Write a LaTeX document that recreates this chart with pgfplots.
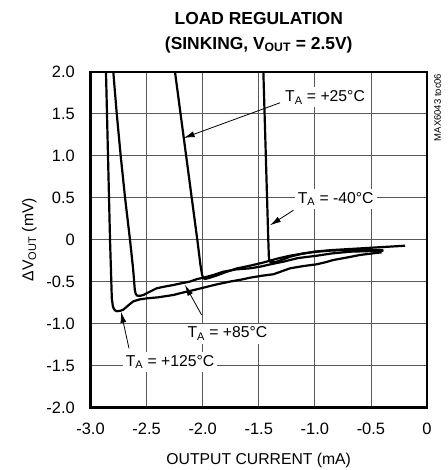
\documentclass[border=0pt]{standalone}
\usepackage{fontspec}
\setmainfont{Liberation Sans}
\usepackage{pgfplots}
\pgfplotsset{compat=1.18}
\usetikzlibrary{arrows.meta}

% curves, x in mA, y in mV
\pgfplotstableread{
x y
-2.866 2.10
-2.862 2.00
-2.826 0.00
-2.810 -0.70
-2.800 -0.80
-2.785 -0.84
-2.766 -0.853
-2.735 -0.848
-2.708 -0.835
-2.660 -0.780
-2.618 -0.735
-2.560 -0.712
-2.499 -0.700
-2.400 -0.688
-2.262 -0.660
-2.180 -0.632
-2.113 -0.612
-1.994 -0.573
-1.880 -0.535
-1.756 -0.500
-1.650 -0.475
-1.578 -0.454
-1.470 -0.430
-1.370 -0.413
-1.300 -0.380
-1.221 -0.342
-1.100 -0.315
-0.983 -0.294
-0.900 -0.268
-0.835 -0.243
-0.700 -0.210
-0.597 -0.183
-0.404 -0.151
}\tonetwofive

\pgfplotstableread{
x y
-2.803 2.10
-2.797 2.00
-2.766 1.50
-2.731 1.00
-2.692 0.50
-2.648 0.00
-2.620 -0.35
-2.605 -0.60
-2.597 -0.645
-2.585 -0.667
-2.560 -0.670
-2.529 -0.660
-2.470 -0.620
-2.410 -0.580
-2.340 -0.560
-2.262 -0.541
-2.190 -0.520
-2.113 -0.500
-2.050 -0.470
-1.994 -0.454
-1.900 -0.420
-1.816 -0.382
-1.700 -0.355
-1.578 -0.342
-1.489 -0.323
-1.380 -0.290
-1.281 -0.263
-1.150 -0.220
-0.983 -0.192
-0.850 -0.165
-0.686 -0.144
-0.390 -0.132
}\teightfive

\pgfplotstableread{
x y
-2.257 2.10
-2.247 2.00
-2.048 0.00
-2.020 -0.30
-2.005 -0.42
-1.994 -0.461
-1.975 -0.468
-1.940 -0.455
-1.880 -0.430
-1.800 -0.390
-1.700 -0.345
-1.578 -0.311
-1.450 -0.270
-1.330 -0.225
-1.221 -0.192
-1.100 -0.165
-0.983 -0.144
-0.850 -0.130
-0.686 -0.124
-0.500 -0.126
-0.390 -0.124
}\ttwofive

\pgfplotstableread{
x y
-1.461 2.10
-1.459 2.00
-1.415 0.00
-1.410 -0.20
-1.405 -0.255
-1.390 -0.270
-1.355 -0.270
-1.300 -0.245
-1.221 -0.204
-1.120 -0.170
-1.005 -0.144
-0.850 -0.125
-0.686 -0.112
-0.450 -0.093
-0.196 -0.073
}\tminusforty

\begin{document}
\begin{tikzpicture}[font=\fontsize{15.8}{18}\selectfont,
    curve/.style={line width=2.2bp, black, line join=round},
    pointer/.style={line width=0.8bp, -{Latex[length=11bp,width=6bp]}}]
\path[use as bounding box] (-90.5bp,-62.5bp) rectangle (357.5bp,407.5bp);
\begin{axis}[
    at={(0,0)}, anchor=south west,
    scale only axis,
    width=336.5bp, height=335.8bp,
    xmin=-3, xmax=0, ymin=-2, ymax=2,
    xtick={-3,-2.5,-2,-1.5,-1,-0.5,0},
    xticklabels={-3.0,-2.5,-2.0,-1.5,-1.0,-0.5,0},
    ytick={-2,-1.5,-1,-0.5,0,0.5,1,1.5,2},
    yticklabels={-2.0,-1.5,-1.0,-0.5,0,0.5,1.0,1.5,2.0},
    major tick length=0pt,
    grid=major,
    major grid style={black!65, line width=0.8bp},
    axis line style={line width=2.4bp},
    tick label style={font=\fontsize{16.5}{18}\selectfont},
    xticklabel style={anchor=center, inner sep=0pt, yshift=-21.5bp},
    yticklabel style={anchor=east, inner sep=0pt, xshift=-15.5bp},
    xlabel={OUTPUT CURRENT (mA)},
    xlabel style={at={(axis description cs:0.5,-0.1697)}, anchor=base},
    ylabel={ΔV\textsubscript{OUT} (mV)},
    ylabel style={at={(axis description cs:-0.1694,0.5)}, anchor=base},
]
\addplot[curve] table {\tonetwofive};
\addplot[curve] table {\teightfive};
\addplot[curve] table {\ttwofive};
\addplot[curve] table {\tminusforty};

\node[fill=white, inner sep=3bp, anchor=base] at (axis cs:-0.909,1.646) {T\textsubscript{A} = +25°C};
\node[fill=white, inner sep=3bp, anchor=base] at (axis cs:-0.814,0.434) {T\textsubscript{A} = -40°C};
\node[fill=white, inner sep=3bp, anchor=base] at (axis cs:-1.779,-1.172) {T\textsubscript{A} = +85°C};
\node[fill=white, inner sep=3bp, anchor=base] at (axis cs:-2.291,-1.509) {T\textsubscript{A} = +125°C};

\draw[pointer] (axis cs:-1.31,1.63) -- (axis cs:-2.17,1.21);
\draw[pointer] (axis cs:-1.19,0.35) -- (axis cs:-1.40,0.17);
\draw[pointer] (axis cs:-2.009,-0.898) -- (axis cs:-2.158,-0.54);
\draw[pointer] (axis cs:-2.657,-1.295) -- (axis cs:-2.728,-0.859);
\end{axis}

\node[anchor=base, font=\bfseries\fontsize{17.5}{20}\selectfont] at (168.25bp,382.9bp) {LOAD REGULATION};
\node[anchor=base, font=\bfseries\fontsize{17.5}{20}\selectfont] at (168.25bp,358.2bp) {(SINKING, V\textsubscript{OUT} = 2.5V)};
\node[rotate=90, font=\fontsize{9.5}{11}\selectfont] at (347bp,300.1bp) {MAX6043 toc06};
\end{tikzpicture}
\end{document}
